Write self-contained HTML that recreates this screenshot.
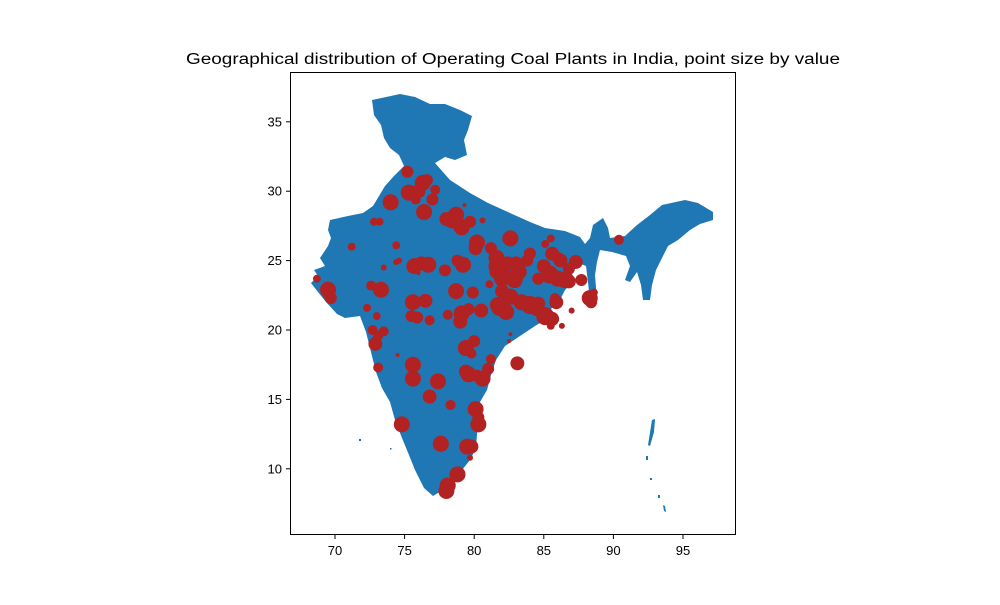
<!DOCTYPE html>
<html><head><meta charset="utf-8"><style>
body{margin:0;background:#fff;font-family:"Liberation Sans",sans-serif}
svg text{font-family:"Liberation Sans",sans-serif}
</style></head><body>
<svg id="chart" width="1000" height="600" viewBox="0 0 1000 600">
<rect width="1000" height="600" fill="#fff"/>
<text x="513" y="64" text-anchor="middle" font-size="15.5" textLength="654" lengthAdjust="spacingAndGlyphs">Geographical distribution of Operating Coal Plants in India, point size by value</text>
<path fill="#1f77b4" d="M372,100 L400,94 L415,97 L430,104 L445,104 L460,110 L472,116 L468,130 L464,140 L467,155 L455,160 L445,157 L435,163 L450,180 L470,193 L488,203 L510,213 L530,222 L545,228 L565,231 L580,237 L585,244 L590,238 L593,225 L603,218 L608,228 L610,238 L625,236 L637,225 L650,215 L662,205 L685,200 L698,203 L713,212 L713,220 L700,224 L690,230 L678,240 L668,246 L662,258 L656,270 L652,285 L650,300 L643,300 L641,285 L637,272 L630,282 L625,280 L630,266 L626,256 L612,252 L600,250 L597,262 L595,275 L597,300 L590,302 L588,282 L586,266 L576,262 L570,270 L575,280 L565,290 L560,300 L550,310 L545,320 L535,326 L520,336 L505,346 L496,360 L491,375 L487,390 L480,402 L478,420 L476,448 L470,460 L462,470 L452,480 L443,490 L433,496 L424,488 L415,470 L409,455 L402,438 L395,420 L390,402 L382,388 L376,372 L371,352 L366,332 L360,316 L345,318 L337,314 L326,302 L318,292 L311,283 L318,276 L314,270 L325,266 L320,258 L328,246 L331,238 L328,230 L330,220 L348,216 L363,213 L373,206 L379,196 L385,186 L394,176 L404,166 L399,155 L390,148 L384,138 L381,125 L374,115 Z"/>
<g fill="#1f77b4">
<path d="M652,420 L655,419 L654,432 L650,446 L648,445 Z"/>
<rect x="646" y="456" width="2" height="4"/>
<rect x="650" y="478" width="2" height="2"/>
<rect x="658" y="495" width="2" height="3"/>
<path d="M663,505 L665,506 L666,512 L664,511 Z"/>
<rect x="359" y="439" width="2" height="2"/>
<rect x="390" y="448" width="1.5" height="1.5"/>
</g>
<g id="pts"></g>
<rect x="290.5" y="72.5" width="445" height="462" fill="none" stroke="#000" stroke-width="1"/>
<g id="ax" font-size="13"></g>
</svg>
<script>
const lon=[75.2,77.2,75.3,76.3,76.6,77.0,74.0,76.4,75.8,78.7,78.4,79.1,79.7,80.6,79.3,71.2,72.8,73.2,74.4,80.2,80.1,82.6,81.2,81.6,82.4,83.2,82.1,84.0,85.6,85.1,86.2,87.3,86.8,85.4,84.6,86.5,87.7,88.3,85.8,84.0,83.4,82.6,81.8,81.1,79.2,78.8,76.7,75.7,74.6,74.4,73.5,69.5,69.7,68.7,72.3,72.6,73.3,75.6,76.5,75.5,76.8,78.7,79.9,78.1,79.1,79.6,79.0,80.0,79.4,79.8,81.2,81.0,79.6,80.6,83.1,85.1,85.5,86.3,85.9,87.0,88.6,72.7,72.9,73.5,73.0,73.1,75.6,75.6,77.4,76.8,78.3,80.1,80.3,74.8,77.6,79.5,79.8,79.7,78.8,78.1,78.0,74.5,76.0,90.4,82.6,82.5,85.5,
76.0,78.0,78.9,81.6,82.0,82.9,83.0,82.3,84.6,85.0,86.0,86.8,81.7,82.0,80.5,79.0,79.4,80.2,84.5,85.6,88.4,76.2,77.9,75.9,73.1,69.6,80.3,81.6,83.8,86.0];
const lat=[31.4,30.1,29.9,30.6,30.8,29.4,29.2,28.5,29.4,28.3,27.9,27.4,27.8,27.9,29.0,26.0,27.8,27.8,26.1,26.3,25.9,26.6,25.9,25.2,24.8,24.2,24.0,25.5,25.5,26.2,25.0,24.9,24.4,24.0,23.7,23.6,23.6,22.3,22.3,21.8,22.0,22.4,21.6,23.3,24.7,25.0,24.7,24.6,25.0,24.9,24.5,22.9,22.3,23.7,21.6,23.2,22.9,22.0,22.1,21.0,20.7,22.8,22.7,21.1,21.2,21.5,20.8,19.2,18.7,18.3,17.9,17.2,16.8,16.5,17.6,21.0,20.3,20.3,22.0,21.4,22.7,20.0,19.0,19.9,21.0,17.3,17.5,16.5,16.3,15.2,14.6,14.3,13.2,13.2,11.8,11.6,11.6,10.8,9.6,8.8,8.4,18.2,24.1,26.5,19.7,19.2,26.6,
30.0,28.0,27.6,24.6,23.7,23.6,24.8,21.3,21.9,24.6,23.7,23.5,21.8,22.8,21.4,20.6,17.0,16.7,21.5,20.8,22.0,24.8,24.3,20.9,19.6,22.5,13.7,24.2,25.0,25.2];
const capacity=[2300,1600,4100,4100,2300,2300,4100,4100,1600,4100,4100,4100,2300,580,250,1000,1000,1000,1000,4100,3100,4100,2300,4100,3100,4100,4100,2300,3100,1000,3100,3100,2300,5200,2300,4100,2300,4100,1600,5200,4100,4100,4100,1000,4100,2300,4100,4100,580,580,580,4100,2300,1000,1000,1600,4100,4100,3100,2300,1600,4100,2300,1600,4100,2300,2300,2300,4100,1600,1600,2300,4100,4100,3100,5200,1000,580,3100,580,1000,1600,3100,1600,1000,1600,4100,4100,4100,3100,1600,4100,4100,4100,4100,4100,3100,580,4100,4100,4100,250,250,1600,250,250,1000,
3100,3100,3100,4100,4100,4100,3100,4100,3100,3100,4100,3100,4100,3100,3100,3100,3100,2300,3100,3100,2300,3100,2300,2300,1600,2300,2300,3100,2300,2300];
const xTicks=[70,75,80,85,90,95];
const yTicks=[10,15,20,25,30,35];
const NS='http://www.w3.org/2000/svg';
function xS(v){return 335+(v-70)*13.92;}
function yS(v){return 330-(v-20)*13.88;}
function rS(c){return Math.sqrt(c)/8;}
const pts=document.getElementById('pts');
for(let i=0;i<lon.length;i++){
  const c=document.createElementNS(NS,'circle');
  c.setAttribute('cx',xS(lon[i]));c.setAttribute('cy',yS(lat[i]));c.setAttribute('r',rS(capacity[i]));
  c.setAttribute('fill','#b22222');
  
  
  pts.appendChild(c);
}
const ax=document.getElementById('ax');
xTicks.forEach(t=>{
  const x=xS(t);
  const l=document.createElementNS(NS,'line');
  l.setAttribute('x1',x);l.setAttribute('x2',x);l.setAttribute('y1',535);l.setAttribute('y2',539);l.setAttribute('stroke','#000');
  
  
  ax.appendChild(l);
  const tx=document.createElementNS(NS,'text');
  tx.setAttribute('x',x);tx.setAttribute('y',555);tx.setAttribute('text-anchor','middle');tx.textContent=t;
  
  
  ax.appendChild(tx);
});
yTicks.forEach(t=>{
  const y=yS(t);
  const l=document.createElementNS(NS,'line');
  l.setAttribute('x1',286);l.setAttribute('x2',290);l.setAttribute('y1',y);l.setAttribute('y2',y);l.setAttribute('stroke','#000');
  
  
  ax.appendChild(l);
  const tx=document.createElementNS(NS,'text');
  tx.setAttribute('x',282);tx.setAttribute('y',y+4.5);tx.setAttribute('text-anchor','end');tx.textContent=t;
  
  
  ax.appendChild(tx);
});
</script>
</body></html>
